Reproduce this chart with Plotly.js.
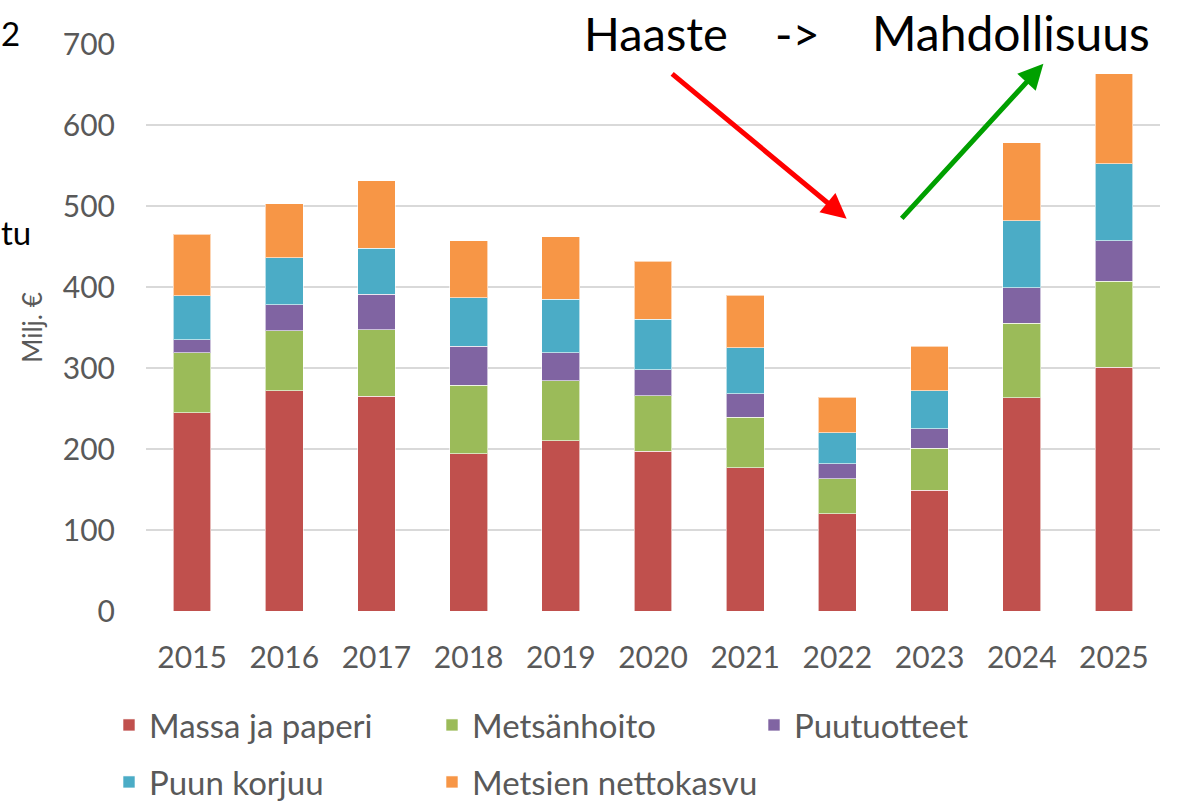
<!DOCTYPE html>
<html>
<head>
<meta charset="utf-8">
<script src="https://cdn.plot.ly/plotly-3.0.1.min.js"></script>
<style>html,body{margin:0;padding:0;background:#fff;}#chart{width:1195px;height:801px;}</style>
</head>
<body>
<div id="chart"></div>
<script>
const years = ['2015','2016','2017','2018','2019','2020','2021','2022','2023','2024','2025'];
const massaJaPaperi   = [245, 272, 265, 194, 210, 197, 177, 120, 149, 263, 301];
const metsanhoito     = [74, 74, 82, 85, 74, 69, 62, 43, 52, 92, 106];
const puutuotteet     = [16, 32, 44, 48, 35, 32, 29, 19, 24, 44, 50];
const puunKorjuu      = [54, 58, 57, 60, 66, 62, 57, 38, 47, 83, 95];
const nettokasvu      = [76, 67, 83, 70, 77, 72, 65, 44, 55, 96, 111];
const seriesNames = ['Massa ja paperi','Metsänhoito','Puutuotteet','Puun korjuu','Metsien nettokasvu'];
const seriesValues = [massaJaPaperi, metsanhoito, puutuotteet, puunKorjuu, nettokasvu];
const colors = ['#C0504D','#9BBB59','#8064A2','#4BACC6','#F79646'];
const legendIds = ['legend','legend2','legend3','legend4','legend5'];

const FONT = 'Lato, "Open Sans", sans-serif';
const traces = seriesNames.map((n,i)=>({
  type:'bar', name:n, x:years, y:seriesValues[i],
  marker:{color:colors[i], line:{color:'rgba(255,255,255,0.6)', width:1}},
  legend: legendIds[i], hoverinfo:'none'
}));

const legendCommon = {orientation:'h', xref:'container', yref:'container', xanchor:'left', yanchor:'middle',
  font:{size:33, color:'#595959', family:FONT}, itemwidth:30, bgcolor:'rgba(0,0,0,0)'};
// swatch left edges (px) and row centres (px)
const legCols = [109, 432, 754, 109, 432];
const legRows = [725, 725, 725, 782, 782];

const layout = {
  width:1195, height:801,
  margin:{l:146, r:35, t:44, b:190},
  paper_bgcolor:'#fff', plot_bgcolor:'#fff',
  barmode:'stack', bargap:0.59,
  font:{family:FONT, color:'#595959', size:30},
  xaxis:{type:'category', showgrid:false, showline:false, zeroline:false, ticks:'',
         tickfont:{size:30, color:'#595959', family:FONT}, ticklabelstandoff:26, automargin:false},
  yaxis:{range:[0,700], dtick:100, showgrid:true, gridcolor:'#d9d9d9', gridwidth:2,
         zeroline:false, showline:false, ticks:'', tickfont:{size:30, color:'#595959', family:FONT},
         ticklabelstandoff:30, automargin:false,
         title:{text:'Milj. €', font:{size:26, color:'#595959', family:FONT}, standoff:12}},
  showlegend:true,
  annotations:[
    {xref:'paper', yref:'paper', x:0.691, y:0.692, ax:-176, ay:-146, showarrow:true,
     arrowcolor:'#FF0000', arrowwidth:5, arrowhead:2, arrowsize:1, text:''},
    {xref:'paper', yref:'paper', x:0.885, y:0.965, ax:-143, ay:156, showarrow:true,
     arrowcolor:'#00A000', arrowwidth:5, arrowhead:2, arrowsize:1, text:''},
    {xref:'paper', yref:'paper', x:(582-146)/1014, y:(611-33)/567, xanchor:'left', yanchor:'middle',
     showarrow:false, text:'Haaste', font:{size:47, color:'#000', family:FONT}},
    {xref:'paper', yref:'paper', x:(797-146)/1014, y:(611-33)/567, xanchor:'center', yanchor:'middle',
     showarrow:false, text:'->', font:{size:47, color:'#000', family:FONT}},
    {xref:'paper', yref:'paper', x:(1152-146)/1014, y:(611-33)/567, xanchor:'right', yanchor:'middle',
     showarrow:false, text:'Mahdollisuus', font:{size:48, color:'#000', family:FONT}},
    {xref:'paper', yref:'paper', x:(0-146)/1014, y:(611-33)/567, xanchor:'left', yanchor:'middle',
     showarrow:false, text:'2', font:{size:33, color:'#000', family:FONT}, borderpad:0},
    {xref:'paper', yref:'paper', x:(0-146)/1014, y:(611-232)/567, xanchor:'left', yanchor:'middle',
     showarrow:false, text:'tu', font:{size:33, color:'#000', family:FONT}, borderpad:0}
  ]
};
legendIds.forEach((id,i)=>{
  layout[id] = Object.assign({}, legendCommon, {x:legCols[i]/1195, y:(801-legRows[i])/801});
});
Plotly.newPlot('chart', traces, layout, {staticPlot:true, displayModeBar:false});
</script>
</body>
</html>
